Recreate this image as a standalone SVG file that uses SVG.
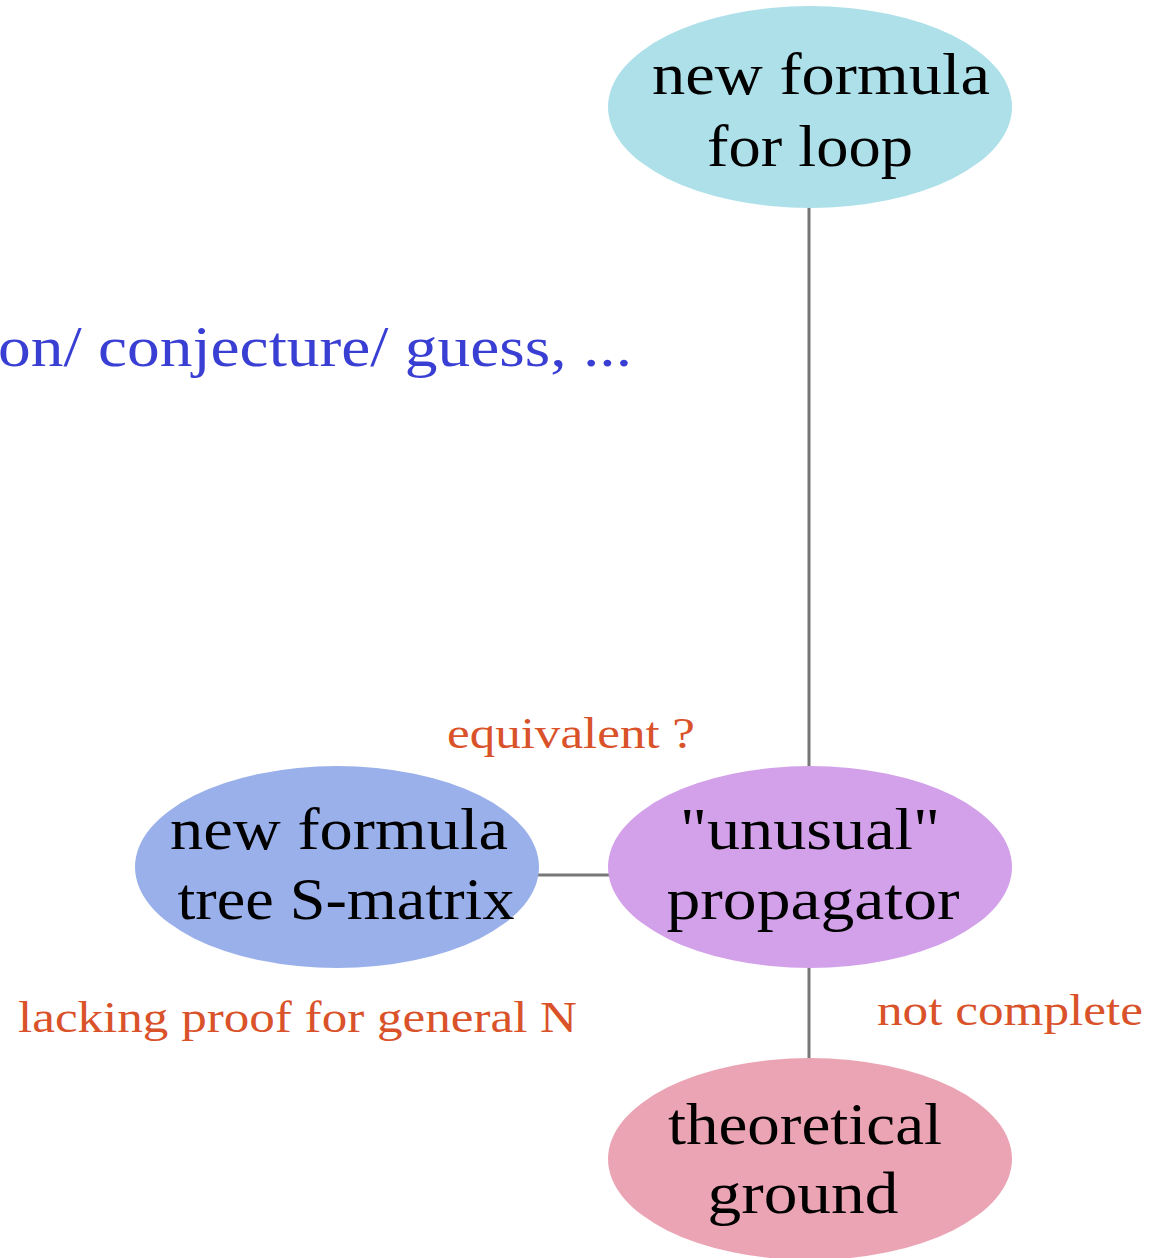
<svg xmlns="http://www.w3.org/2000/svg" width="1165" height="1258" viewBox="0 0 1165 1258">
<style>
.node text{font-family:"Liberation Serif","DejaVu Serif",serif;font-size:59px;fill:#000;text-anchor:middle}
.lbl{font-family:"Liberation Serif","DejaVu Serif",serif;font-size:44px;fill:#d9522a}
.note{font-family:"Liberation Serif","DejaVu Serif",serif;font-size:58px;fill:#3a3fd4}
.edge{stroke:#777;stroke-width:3;fill:none}
</style>
<rect width="1165" height="1258" fill="#fff"/>
<g id="connectors">
<line class="edge" x1="809" y1="207" x2="809" y2="767"/>
<line class="edge" x1="538" y1="875" x2="609" y2="875"/>
<line class="edge" x1="809" y1="967" x2="809" y2="1059"/>
</g>
<g id="n_loop" class="node">
<ellipse cx="810" cy="107" rx="202" ry="101" fill="#aee0ea"/>
<text x="821" y="94" textLength="338" lengthAdjust="spacingAndGlyphs">new formula</text>
<text x="810" y="166" textLength="206" lengthAdjust="spacingAndGlyphs">for loop</text>
</g>
<g id="n_tree" class="node">
<ellipse cx="337" cy="867" rx="202" ry="101" fill="#9ab0ea"/>
<text x="339" y="849" textLength="338" lengthAdjust="spacingAndGlyphs">new formula</text>
<text x="346" y="919" textLength="337" lengthAdjust="spacingAndGlyphs">tree S-matrix</text>
</g>
<g id="n_prop" class="node">
<ellipse cx="810" cy="867" rx="202" ry="101" fill="#d3a1ea"/>
<text x="810" y="849" textLength="260" lengthAdjust="spacingAndGlyphs">"unusual"</text>
<text x="813" y="919" textLength="293" lengthAdjust="spacingAndGlyphs">propagator</text>
</g>
<g id="n_ground" class="node">
<ellipse cx="810" cy="1159" rx="202" ry="101" fill="#eba4b4"/>
<text x="805" y="1144" textLength="274" lengthAdjust="spacingAndGlyphs">theoretical</text>
<text x="803" y="1213" textLength="191" lengthAdjust="spacingAndGlyphs">ground</text>
</g>
<g id="labels">
<text class="note" x="-2" y="366" textLength="634" lengthAdjust="spacingAndGlyphs">on/ conjecture/ guess, ...</text>
<text class="lbl" x="447" y="748" textLength="248" lengthAdjust="spacingAndGlyphs">equivalent ?</text>
<text class="lbl" x="18" y="1032" textLength="559" lengthAdjust="spacingAndGlyphs">lacking proof for general N</text>
<text class="lbl" x="877" y="1025" textLength="266" lengthAdjust="spacingAndGlyphs">not complete</text>
</g>
</svg>
